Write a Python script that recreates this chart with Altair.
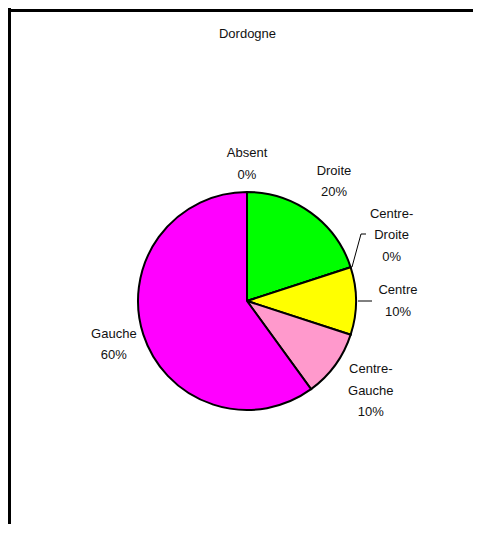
import altair as alt
import pandas as pd

TITLE = "Dordogne"
CATEGORIES = ["Absent", "Droite", "Centre-Droite", "Centre", "Centre-Gauche", "Gauche"]
PERCENTS = [0, 20, 0, 10, 10, 60]
COLORS = ["#FFFFFF", "#00FF00", "#3366FF", "#FFFF00", "#FF99CC", "#FF00FF"]


def label_of(cat, pct):
    parts = cat.split("-")
    lines = [p + "-" for p in parts[:-1]] + [parts[-1]]
    return "\n".join(lines + [f"{pct}%"])


df = pd.DataFrame({
    "cat": CATEGORIES,
    "pct": PERCENTS,
    "order": list(range(len(CATEGORIES))),
    "label": [label_of(c, p) for c, p in zip(CATEGORIES, PERCENTS)],
})

W, H = 465, 516
CX, CY = 239, 293
R = 109
FONT = "Liberation Sans"
FS = 13
LH = 21.5

# label placement (style): distance from the pie centre and vertical nudge
LABEL_STYLE = {
    "Absent": (137, 0),
    "Droite": (148, 0),
    "Centre-Droite": (152, -19),
    "Centre": (151, 0),
    "Centre-Gauche": (153, 0),
    "Gauche": (140, 0),
}

base = alt.Chart(df).encode(
    theta=alt.Theta("pct:Q", stack=True),
    order=alt.Order("order:Q", sort="ascending"),
)

pie = base.mark_arc(radius=R, stroke="black", strokeWidth=2).encode(
    color=alt.Color("cat:N", scale=alt.Scale(domain=CATEGORIES, range=COLORS), legend=None),
    x=alt.value(CX),
    y=alt.value(CY),
)

label_layers = []
for cat, pct in zip(CATEGORIES, PERCENTS):
    r, dy = LABEL_STYLE[cat]
    n_lines = label_of(cat, pct).count("\n") + 1
    label_layers.append(
        base.transform_calculate(
            txt=f"datum.cat == '{cat}' ? datum.label : ''"
        ).mark_text(lineBreak="\n", lineHeight=LH, align="center", baseline="middle",
                    radius=r, dy=dy - (n_lines - 1) * LH / 2, font=FONT, fontSize=FS,
                    color="#111111").encode(
            text="txt:N",
            x=alt.value(CX),
            y=alt.value(CY),
        )
    )

one = alt.Chart(pd.DataFrame({"k": [0]}))

border_top = one.mark_rule(color="black", strokeWidth=3).encode(
    x=alt.value(0), x2=alt.value(W), y=alt.value(2.5))
border_left = one.mark_rule(color="black", strokeWidth=3).encode(
    x=alt.value(1.5), y=alt.value(0), y2=alt.value(H))

lead_centre = one.mark_rule(color="black", strokeWidth=1).encode(
    x=alt.value(350), x2=alt.value(364), y=alt.value(293), y2=alt.value(293))
lead_cd1 = one.mark_rule(color="black", strokeWidth=1).encode(
    x=alt.value(344), x2=alt.value(353), y=alt.value(259), y2=alt.value(226))
lead_cd2 = one.mark_rule(color="black", strokeWidth=1).encode(
    x=alt.value(353), x2=alt.value(358), y=alt.value(226), y2=alt.value(226))

title = one.mark_text(font=FONT, fontSize=FS, color="#111111", align="center",
                      baseline="middle").encode(
    x=alt.value(CX + 0.5), y=alt.value(26), text=alt.value(TITLE))

chart = alt.layer(
    pie, *label_layers, lead_centre, lead_cd1, lead_cd2, title, border_top, border_left
).properties(
    width=W, height=H, padding=0, autosize=alt.AutoSizeParams(type="none"),
    background="white",
).configure_view(stroke=None)

chart.save("out.html", embed_options={"renderer": "svg", "actions": False})
